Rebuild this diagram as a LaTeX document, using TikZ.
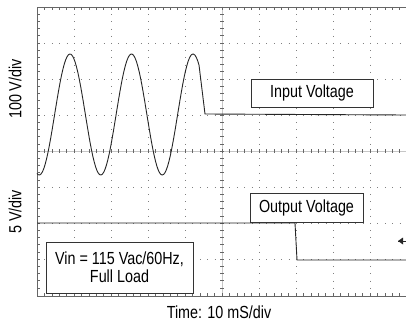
\documentclass[tikz,border=0pt]{standalone}
\usepackage{fontspec}
\setmainfont{Liberation Sans}[FakeStretch=0.82]

\tikzset{
	griddot/.style = {gray, line width = 0.8pt, dash pattern = on 0.8pt off 6.4pt},
	frameline/.style = {gray!80!black, line width = 0.8pt},
	tickline/.style = {gray!80!black, line width = 0.6pt},
	trace/.style = {black!85, line width = 0.9pt},
	labelbox/.style = {draw = black!80, line width = 0.9pt, fill = white, inner sep = 0pt, align = center}
}

\begin{document}
\begin{tikzpicture}[x = 1pt, y = -1pt, > = latex, font = \fontsize{17.5}{18}\selectfont]

	\useasboundingbox (0, 0) rectangle (406, 326);

	% Grid

	\foreach \i in {1, ..., 9}
		\draw [griddot] ({37 + 37 * \i}, 7) -- ({37 + 37 * \i}, 296);
	\foreach \j in {1, ..., 7}
		\draw [griddot, dash pattern = on 0.8pt off 6.6pt] (37, {7 + 36 * \j}) -- (406, {7 + 36 * \j});

	% Axes

	\draw [gray!45, line width = 0.8pt] (222, 7) -- (222, 296);
	\draw [gray!45, line width = 0.8pt] (37, 151) -- (406, 151);
	\foreach \k in {1, ..., 39}
		\draw [tickline] (222 - 2, {7 + 7.2 * \k}) -- (222 + 2, {7 + 7.2 * \k});
	\foreach \k in {1, ..., 49}
		\draw [tickline] ({37 + 7.4 * \k}, 151 - 2) -- ({37 + 7.4 * \k}, 151 + 2);

	% Frame

	\draw [frameline] (406, 7) -- (37, 7) -- (37, 296) -- (406, 296);
	\foreach \k in {1, ..., 39}
		\draw [tickline] (37, {7 + 7.2 * \k}) -- (40, {7 + 7.2 * \k});
	\foreach \k in {1, ..., 49}
		\draw [tickline] ({37 + 7.4 * \k}, 7) -- ({37 + 7.4 * \k}, 10)
			({37 + 7.4 * \k}, 296) -- ({37 + 7.4 * \k}, 293);

	% Input voltage

	\draw [trace] plot [variable = \x, domain = 37 : 199, samples = 120] (\x, {114.5 - 60.5 * cos(5.8537 * (\x - 70))})
		-- (205, 114) -- (406, 115);

	% Output voltage

	\draw [trace] (37, 223) -- (295, 223) -- (297, 260) -- (406, 260);

	% Trigger marker

	\draw [trace] (398, 241) -- (406, 241);
	\fill [black!85] (398, 241) -- (403, 237.5) -- (403, 244.5) -- cycle;

	% Labels

	\node [labelbox, minimum width = 122pt, minimum height = 28pt] (inbox) at (312, 93) {Input Voltage};
	\node [labelbox, minimum width = 113pt, minimum height = 29pt] (outbox) at (306.5, 207.5) {Output Voltage};
	\node [labelbox, minimum width = 147pt, minimum height = 51pt] (condbox) at (119.5, 267.5) {Vin = 115 Vac/60Hz,\\Full Load};

	\node [rotate = 90] (yin) at (15, 89) {100 V/div};
	\node [rotate = 90] (yout) at (15, 212) {5 V/div};
	\node (xlabel) at (219, 312) {Time: 10 mS/div};

\end{tikzpicture}
\end{document}
